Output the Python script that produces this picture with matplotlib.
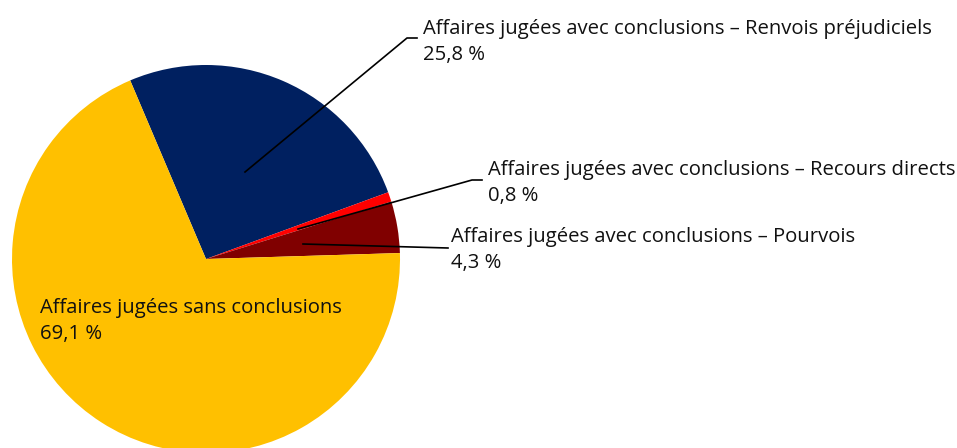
import matplotlib.pyplot as plt

plt.rcParams['font.family'] = ['Open Sans', 'DejaVu Sans']

categories = [
    'Affaires jugées avec conclusions – Renvois préjudiciels',
    'Affaires jugées avec conclusions – Recours directs',
    'Affaires jugées avec conclusions – Pourvois',
    'Affaires jugées sans conclusions',
]
shares = [25.8, 0.8, 4.3, 69.1]
colors = ['#002060', '#FF0000', '#800000', '#FFC000']

W, H = 957, 448
CX, CY, R = 206, 259, 194  # pie centre and radius in pixels


def px(x, y):
    # pixel position -> data coords of the pie axes
    return (x - CX) / R, (CY - y) / R


fig = plt.figure(figsize=(W / 100, H / 100), dpi=100)
ax = fig.add_axes([(CX - R) / W, (H - CY - R) / H, 2 * R / W, 2 * R / H])
ax.pie(shares, colors=colors, startangle=113, counterclock=False, radius=1,
       wedgeprops=dict(linewidth=0))
ax.set_xlim(-1, 1)
ax.set_ylim(-1, 1)
ax.set_aspect('equal')
ax.axis('off')

# leader lines: start inside slice, elbow, end near text
leaders = [
    [(245, 172), (407, 38), (417, 38)],
    [(298, 229), (472, 180), (482, 180)],
    [(303, 244), (448, 248)],
]
for pts in leaders:
    xs, ys = zip(*[px(*p) for p in pts])
    ax.plot(xs, ys, color='black', linewidth=1.2, clip_on=False)

label_pos = [(423, 42), (488, 183), (451, 250), (40, 321)]
for name, val, (x, y) in zip(categories, shares, label_pos):
    tx, ty = px(x, y)
    txt = f'{name}\n{val:.1f} %'.replace('.', ',')
    ax.text(tx, ty, txt, ha='left', va='center', fontsize=14.6,
            linespacing=1.45, color='#111111', clip_on=False)

plt.savefig('out.png', dpi=100)
